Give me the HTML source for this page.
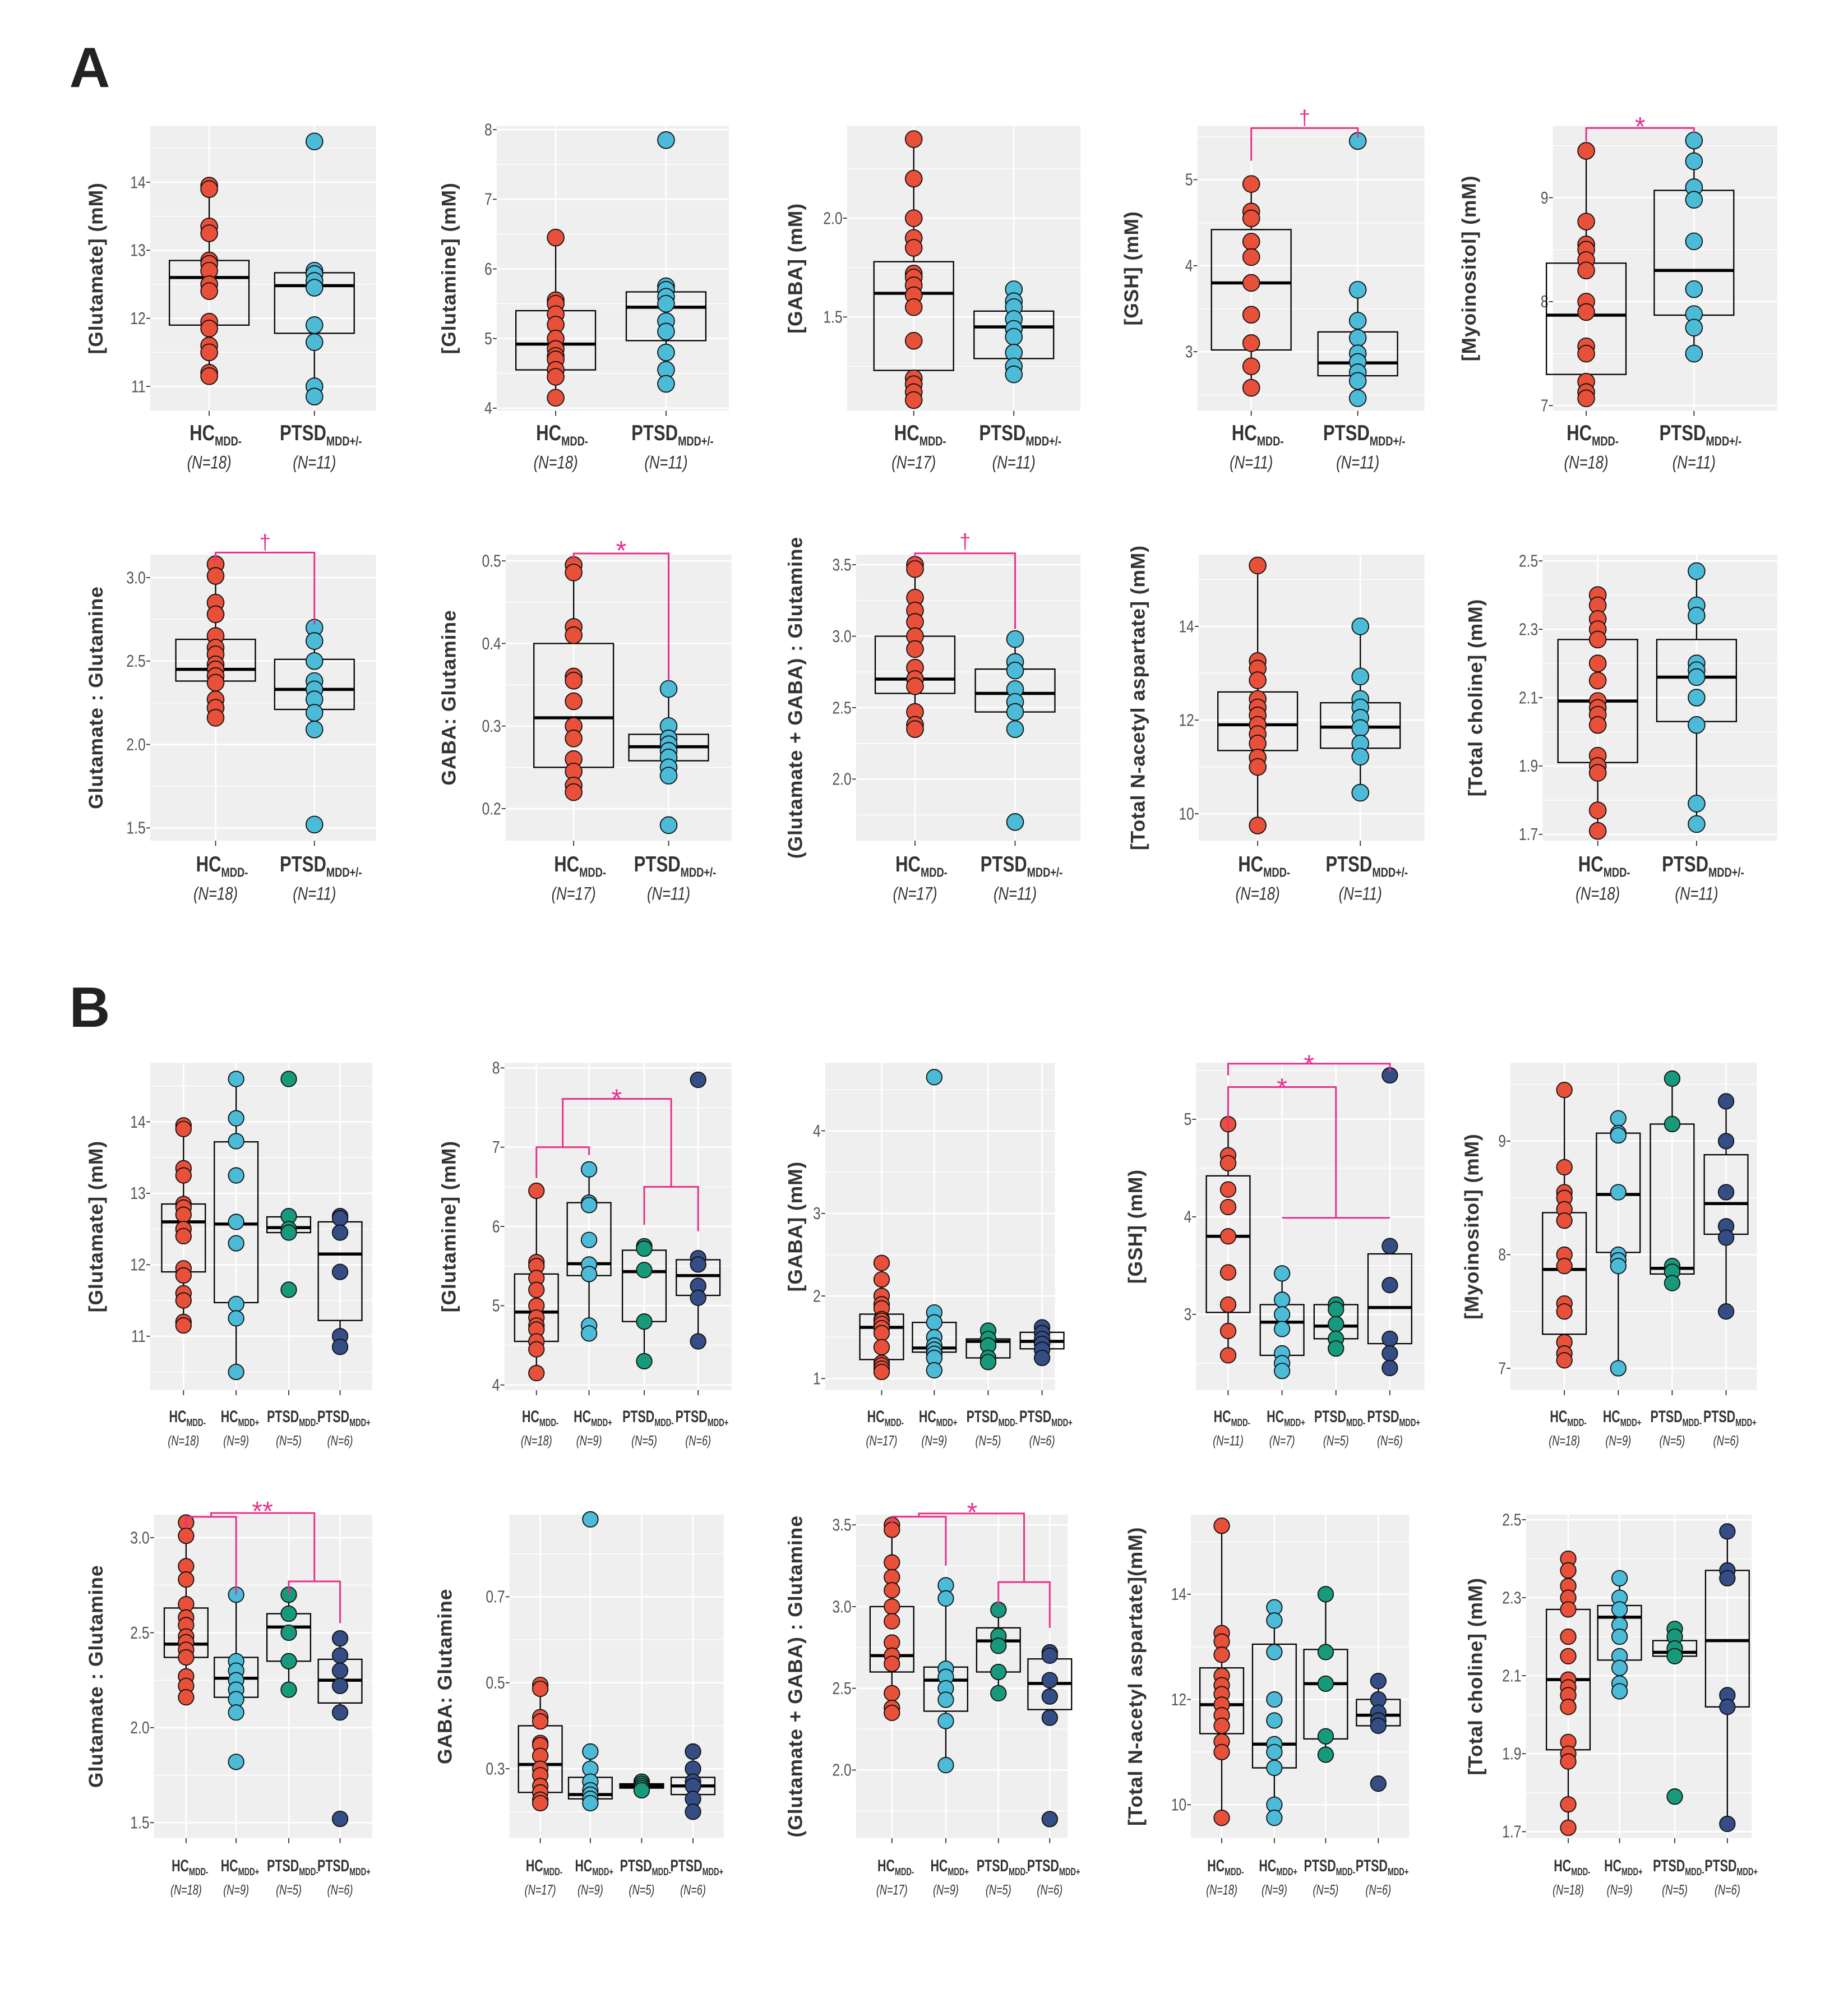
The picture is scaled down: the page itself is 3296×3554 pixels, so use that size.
<!DOCTYPE html>
<html><head><meta charset="utf-8"><style>
html,body{margin:0;padding:0;background:#fff}
svg{display:block}
text{font-family:"Liberation Sans",sans-serif}
</style></head><body>
<svg id="fig" xmlns="http://www.w3.org/2000/svg" width="3296" height="3554" viewBox="0 0 1440 1552.7" preserveAspectRatio="none">
<rect width="1440" height="1553" fill="#fff"/>
<text x="54" y="68" font-size="44" font-weight="bold" fill="#222">A</text>
<text x="54" y="800" font-size="44" font-weight="bold" fill="#222">B</text>
</svg>
<script>
// ---------- DATA ----------
const titles = ["[Glutamate] (mM)","[Glutamine] (mM)","[GABA] (mM)","[GSH] (mM)","[Myoinositol] (mM)",
 "Glutamate : Glutamine","GABA: Glutamine","(Glutamate + GABA) : Glutamine","[Total N-acetyl aspartate] (mM)","[Total choline] (mM)",
 "[Glutamate] (mM)","[Glutamine] (mM)","[GABA] (mM)","[GSH] (mM)","[Myoinositol] (mM)",
 "Glutamate : Glutamine","GABA: Glutamine","(Glutamate + GABA) : Glutamine","[Total N-acetyl aspartate](mM)","[Total choline] (mM)"];
const groupsA = ["HC","PTSD"];
const subsA = ["MDD-","MDD+/-"];
const groupsB = ["HC","HC","PTSD","PTSD"];
const subsB = ["MDD-","MDD+","MDD-","MDD+"];
const ticks = [[11,12,13,14],[4,5,6,7,8],[1.5,2.0],[3,4,5],[7,8,9],
 [1.5,2.0,2.5,3.0],[0.2,0.3,0.4,0.5],[2.0,2.5,3.0,3.5],[10,12,14],[1.7,1.9,2.1,2.3,2.5],
 [11,12,13,14],[4,5,6,7,8],[1,2,3,4],[3,4,5],[7,8,9],
 [1.5,2.0,2.5,3.0],[0.3,0.5,0.7],[2.0,2.5,3.0,3.5],[10,12,14],[1.7,1.9,2.1,2.3,2.5]];
const tickDecimals = [0,0,1,0,0, 1,1,1,0,1, 0,0,0,0,0, 1,1,1,0,1];
const ns = [[18,11],[18,11],[17,11],[11,11],[18,11],[18,11],[17,11],[17,11],[18,11],[18,11],
 [18,9,5,6],[18,9,5,6],[17,9,5,6],[11,7,5,6],[18,9,5,6],[18,9,5,6],[17,9,5,6],[17,9,5,6],[18,9,5,6],[18,9,5,6]];

const hcGlu = [13.95,13.9,13.35,13.25,12.85,12.8,12.7,12.5,12.4,11.95,11.85,11.6,11.5,11.2,11.15];
const hcGln = [6.45,5.55,5.5,5.35,5.2,5.0,4.85,4.75,4.7,4.55,4.45,4.15];
const hcGaba = [2.40,2.20,2.0,1.90,1.85,1.72,1.70,1.66,1.61,1.55,1.38,1.19,1.16,1.12,1.08];
const hcGsh = [4.95,4.63,4.55,4.28,4.1,3.8,3.43,3.1,2.83,2.58];
const hcMyo = [9.45,8.77,8.55,8.5,8.4,8.3,8.0,7.9,7.57,7.5,7.23,7.13,7.07];
const hcGluGln = [3.08,3.01,2.85,2.78,2.65,2.58,2.54,2.48,2.45,2.41,2.37,2.27,2.22,2.16];
const hcGabaGln = [0.495,0.486,0.42,0.41,0.36,0.355,0.33,0.30,0.285,0.26,0.245,0.228,0.22];
const hcGgGln = [3.5,3.47,3.27,3.18,3.1,3.0,2.91,2.78,2.7,2.65,2.47,2.38,2.35];
const hcNaa = [15.3,13.26,13.1,12.85,12.45,12.27,12.1,11.9,11.7,11.5,11.2,11.0,9.75];
const hcCho = [2.40,2.37,2.33,2.30,2.27,2.2,2.15,2.09,2.07,2.05,2.02,1.93,1.9,1.88,1.77,1.71];

const points = [
 [hcGlu,[14.6,12.7,12.65,12.55,12.45,11.9,11.65,11.0,10.85]],
 [hcGln,[7.85,5.75,5.7,5.6,5.5,5.25,5.1,4.8,4.55,4.35]],
 [hcGaba,[1.64,1.58,1.55,1.49,1.44,1.40,1.32,1.25,1.21]],
 [hcGsh,[5.45,3.72,3.36,3.16,2.98,2.88,2.76,2.66,2.46]],
 [hcMyo,[9.55,9.35,9.1,8.98,8.58,8.12,7.88,7.75,7.5]],
 [hcGluGln,[2.7,2.62,2.5,2.38,2.33,2.27,2.19,2.09,1.52]],
 [hcGabaGln,[0.345,0.30,0.285,0.278,0.27,0.262,0.25,0.24,0.18]],
 [hcGgGln,[2.98,2.82,2.76,2.63,2.54,2.47,2.35,1.7]],
 [hcNaa,[14.0,12.93,12.45,12.27,12.05,11.83,11.5,11.22,10.45]],
 [hcCho,[2.47,2.37,2.34,2.2,2.18,2.16,2.1,2.02,1.79,1.73]],
 [hcGlu,[14.6,14.05,13.73,13.25,12.6,12.3,11.45,11.25,10.5],[14.6,12.68,12.5,12.45,11.65],[12.68,12.65,12.45,11.9,11.0,10.85]],
 [hcGln,[6.72,6.3,6.27,5.83,5.52,5.4,4.75,4.65],[5.75,5.72,5.45,4.8,4.3],[7.85,5.6,5.52,5.25,5.1,4.55]],
 [hcGaba,[4.65,1.8,1.68,1.5,1.4,1.35,1.3,1.25,1.1],[1.58,1.48,1.4,1.25,1.2],[1.62,1.55,1.48,1.42,1.35,1.25]],
 [hcGsh,[3.42,3.15,3.0,2.85,2.6,2.5,2.42],[3.1,3.05,2.9,2.75,2.65],[5.45,3.7,3.3,2.75,2.6,2.45]],
 [hcMyo,[9.2,9.07,9.05,8.55,8.0,7.95,7.9,7.0],[9.55,9.15,7.9,7.85,7.75],[9.35,9.0,8.55,8.25,8.15,7.5]],
 [hcGluGln,[2.7,2.35,2.3,2.25,2.2,2.15,2.08,1.82],[2.7,2.6,2.5,2.35,2.2],[2.47,2.38,2.3,2.22,2.08,1.52]],
 [hcGabaGln,[0.88,0.34,0.3,0.27,0.25,0.24,0.23,0.22],[0.27,0.265,0.26,0.255,0.25],[0.34,0.3,0.27,0.26,0.23,0.2]],
 [hcGgGln,[3.13,3.05,2.62,2.57,2.5,2.43,2.3,2.03],[2.98,2.82,2.76,2.6,2.47],[2.72,2.7,2.55,2.45,2.32,1.7]],
 [hcNaa,[13.75,13.5,12.9,12.0,11.6,11.15,11.0,10.7,10.0,9.75],[14.0,12.9,12.3,11.3,10.95],[12.35,12.0,11.75,11.6,11.5,10.4]],
 [hcCho,[2.35,2.3,2.27,2.23,2.2,2.15,2.12,2.08,2.06],[2.22,2.2,2.17,2.15,1.79],[2.47,2.37,2.35,2.05,2.02,1.72]]
];
// box stats: [lower whisker, q1, median, q3, upper whisker]
const boxes = [
 [[11.15,11.9,12.6,12.85,13.95],[10.85,11.78,12.48,12.67,12.7]],
 [[4.15,4.55,4.92,5.4,6.45],[4.35,4.97,5.45,5.67,5.75]],
 [[1.08,1.23,1.62,1.78,2.40],[1.21,1.29,1.45,1.53,1.64]],
 [[2.58,3.02,3.8,4.42,4.95],[2.46,2.72,2.87,3.23,3.72]],
 [[7.07,7.3,7.87,8.37,9.45],[7.5,7.87,8.3,9.07,9.55]],
 [[2.16,2.38,2.45,2.63,3.08],[2.09,2.21,2.33,2.51,2.7]],
 [[0.22,0.25,0.31,0.40,0.495],[0.24,0.258,0.275,0.29,0.345]],
 [[2.35,2.6,2.7,3.0,3.5],[2.35,2.47,2.6,2.77,2.98]],
 [[9.75,11.35,11.9,12.6,15.3],[10.45,11.4,11.85,12.37,14.0]],
 [[1.71,1.91,2.09,2.27,2.40],[1.73,2.03,2.16,2.27,2.47]],
 [[11.15,11.9,12.6,12.85,13.95],[10.5,11.47,12.57,13.72,14.6],[12.45,12.45,12.52,12.67,12.68],[10.85,11.22,12.15,12.6,12.68]],
 [[4.15,4.55,4.92,5.4,6.45],[4.65,5.38,5.53,6.3,6.72],[4.3,4.8,5.43,5.7,5.75],[4.55,5.13,5.38,5.58,5.6]],
 [[1.08,1.23,1.62,1.78,2.40],[1.1,1.32,1.37,1.68,1.8],[1.2,1.25,1.45,1.48,1.58],[1.25,1.36,1.45,1.56,1.62]],
 [[2.58,3.02,3.8,4.42,4.95],[2.42,2.58,2.92,3.1,3.42],[2.65,2.75,2.88,3.1,3.1],[2.45,2.7,3.07,3.62,3.7]],
 [[7.07,7.3,7.87,8.37,9.45],[7.0,8.02,8.53,9.07,9.2],[7.75,7.83,7.88,9.15,9.55],[7.5,8.18,8.45,8.88,9.35]],
 [[2.16,2.37,2.44,2.63,3.08],[2.08,2.16,2.26,2.37,2.7],[2.2,2.35,2.53,2.6,2.7],[2.08,2.13,2.25,2.36,2.47]],
 [[0.21,0.245,0.31,0.40,0.49],[0.22,0.23,0.24,0.28,0.34],[0.25,0.255,0.26,0.265,0.27],[0.2,0.24,0.26,0.28,0.34]],
 [[2.35,2.6,2.7,3.0,3.5],[2.03,2.36,2.55,2.63,3.13],[2.47,2.6,2.79,2.87,2.98],[2.32,2.37,2.53,2.68,2.72]],
 [[9.75,11.35,11.9,12.6,15.3],[9.7,10.7,11.15,13.05,13.75],[10.95,11.25,12.3,12.95,14.0],[11.5,11.5,11.7,12.0,12.35]],
 [[1.71,1.91,2.09,2.27,2.40],[2.06,2.14,2.25,2.28,2.35],[2.15,2.15,2.16,2.19,2.22],[1.72,2.02,2.19,2.37,2.47]]
];
// significance brackets: polylines as [categoryIndex, value] pairs; plus symbol [catIndex, value, label]
const bracketLines = {
 3:[[[0,5.22],[0,5.6],[1,5.6],[1,5.49]]],
 4:[[[0,9.54],[0,9.67],[1,9.67],[1,9.62]]],
 5:[[[0,3.1],[0,3.15],[1,3.15],[1,2.72]]],
 6:[[[0,0.5],[0,0.509],[1,0.509],[1,0.355]]],
 7:[[[0,3.53],[0,3.58],[1,3.58],[1,3.05]]],
 11:[[[0,6.61],[0,7.0],[1,7.0],[1,6.9]],[[2,6.02],[2,6.5],[3,6.5],[3,5.94]],[[0.5,7.0],[0.5,7.61],[2.5,7.61],[2.5,6.5]]],
 13:[[[0,5.45],[0,5.57],[3,5.57],[3,5.49]],[[0,4.9],[0,5.33],[2,5.33],[2,3.99]],[[1,3.99],[3,3.99]]],
 15:[[[0,3.05],[0,3.11],[1,3.11],[1,2.70]],[[2,2.70],[2,2.77],[3,2.77],[3,2.55]],[[0.5,3.11],[0.5,3.13],[2.5,3.13],[2.5,2.77]]],
 17:[[[0,3.5],[0,3.55],[1,3.55],[1,3.25]],[[2,3.01],[2,3.15],[3,3.15],[3,2.87]],[[0.5,3.55],[0.5,3.57],[2.5,3.57],[2.5,3.15]]]
};
const bracketSymbols = {
 3:[[0.5,5.7,"†"]],4:[[0.5,9.72,"*"]],5:[[0.5,3.2,"†"]],6:[[0.5,0.517,"*"]],7:[[0.5,3.65,"†"]],
 11:[[1.5,7.66,"*"]],13:[[1.5,5.6,"*"],[1,5.36,"*"]],15:[[1.5,3.16,"**"]],17:[[1.5,3.6,"*"]]
};

// ---------- LAYOUT (pixel positions, not data) ----------
const bgX = [[117,293],[387,568],[660,842],[933,1110],[1210,1385],
 [117,293],[394,570],[667,842],[934,1110],[1202,1385],
 [117,290],[393,570],[643,822],[932,1110],[1177,1369],
 [120,290],[397,564],[667,832],[928,1098],[1189,1365]];
const bgY = [[98,320],[432,655],[828,1083],[1180,1432]];
const catX = [[163,245],[433,519],[712,790],[975,1058],[1236,1320],
 [168,245],[447,521],[713,791],[980,1060],[1245,1322],
 [143,184,225,265],[418,459,502,544],[687,728,770,812],[957,999,1041,1083],[1219,1261,1303,1345],
 [145,184,225,265],[421,460,500,540],[695,737,778,818],[952,993,1033,1074],[1222,1262,1305,1346]];
const yMap = [[14,142,11,301],[8,101,4,318],[2.0,170,1.5,247],[5,140,3,274],[9,154,7,316],
 [3,450,1.5,645],[0.5,437,0.2,630],[3.5,440,2.0,607],[14,488,10,634],[2.5,437,1.7,650],
 [14,874,11,1041],[8,832,4,1079],[4,881,1,1074],[5,872,3,1024],[9,889,7,1066],
 [3,1198,1.5,1420],[0.7,1244,0.3,1378],[3.5,1188,2.0,1379],[14,1242,10,1406],[2.5,1184,1.7,1427]];
const titleX = [80,355,625,887,1150, 80,355,625,892,1155, 80,355,625,890,1152, 80,352,625,890,1155];
const labY = [[343,365],[679,701],[1108,1126],[1458,1476]];
const colorsA = ["#e8503a","#4bbbd8"];
const colorsB = ["#e8503a","#4bbbd8","#179a7b","#354d85"];
const NS = "http://www.w3.org/2000/svg";
const svg = document.getElementById('fig');

function mk(tag, attrs, parent){
  const e = document.createElementNS(NS, tag);
  for (const k in attrs) e.setAttribute(k, attrs[k]);
  (parent||svg).appendChild(e);
  return e;
}

for (let p = 0; p < 20; p++) {
  const row = Math.floor(p/5);
  const isB = row >= 2;
  const [x0,x1] = bgX[p];
  const [y0,y1] = bgY[row];
  const m = yMap[p];
  const ys = v => m[1] + (v - m[0]) * (m[3] - m[1]) / (m[2] - m[0]);
  const cx = c => { const xs = catX[p]; const i = Math.floor(c); const f = c - i; return f === 0 ? xs[i] : xs[i] + f * (xs[i+1] - xs[i]); };
  const g = mk('g', {});
  
  
  const bg = mk('rect', {x:x0, y:y0, width:x1-x0, height:y1-y0, fill:'#efefef'}, g);
  
  
  const tk = ticks[p];
  const step = tk[1] - tk[0];
  for (let v = tk[0] - step*1.5; v <= tk[tk.length-1] + step*1.6; v += step/2) {
    const yy = ys(v);
    if (yy < y0 || yy > y1) continue;
    const major = tk.some(t => Math.abs(t - v) < 1e-6);
    mk('line', {x1:x0, x2:x1, y1:yy, y2:yy, stroke:'#fff', 'stroke-width': major ? 1.2 : 0.6}, g);
  }
  catX[p].forEach(x => {
    mk('line', {x1:x, x2:x, y1:y0, y2:y1, stroke:'#fff', 'stroke-width':1.2}, g);
    mk('line', {x1:x, x2:x, y1:y1, y2:y1+4, stroke:'#333', 'stroke-width':0.8}, g);
  });
  tk.forEach(t => {
    const yy = ys(t);
    mk('line', {x1:x0-3, x2:x0, y1:yy, y2:yy, stroke:'#333', 'stroke-width':0.8}, g);
    const lab = mk('text', {x:0, y:0, 'font-size':13.5, fill:'#555', 'text-anchor':'end', transform:`translate(${x0-3.5} ${yy+4.5}) scale(0.8 1)`}, g);
    lab.textContent = t.toFixed(tickDecimals[p]);
    
    
  });
  const ty = (y0 + y1) / 2;
  const title = mk('text', {x:titleX[p], y:ty, 'font-size':15.5, 'font-weight':'bold', fill:'#333', 'text-anchor':'middle', 'letter-spacing':0.4, transform:`rotate(-90 ${titleX[p]} ${ty})`}, g);
  title.textContent = titles[p];
  
  
  const half = isB ? 17 : 31;
  const cols = isB ? colorsB : colorsA;
  boxes[p].forEach((b, i) => {
    const x = catX[p][i];
    mk('line', {x1:x, x2:x, y1:ys(b[0]), y2:ys(b[1]), stroke:'#000', 'stroke-width':1}, g);
    mk('line', {x1:x, x2:x, y1:ys(b[3]), y2:ys(b[4]), stroke:'#000', 'stroke-width':1}, g);
    const r = mk('rect', {x:x-half, y:ys(b[3]), width:half*2, height:Math.max(ys(b[1])-ys(b[3]),0.5), fill:'none', stroke:'#000', 'stroke-width':1}, g);
    
    
    mk('line', {x1:x-half, x2:x+half, y1:ys(b[2]), y2:ys(b[2]), stroke:'#000', 'stroke-width':2.4}, g);
  });
  points[p].forEach((arr, i) => {
    arr.forEach(v => {
      const c = mk('circle', {cx:catX[p][i], cy:ys(v), r:isB ? 6 : 6.5, fill:cols[i], stroke:'#111', 'stroke-width':0.8}, g);
      
      
    });
  });
  (bracketLines[p] || []).forEach(line => {
    const pl = mk('polyline', {points: line.map(q => cx(q[0]) + ',' + ys(q[1])).join(' '), fill:'none', stroke:'#e8308c', 'stroke-width':1.3}, g);
    
    
  });
  (bracketSymbols[p] || []).forEach(s => {
    const t = mk('text', {x:cx(s[0]), y:ys(s[1]) + (s[2] === '†' ? 4 : 10), 'font-size':s[2] === '†' ? 16 : 21, fill:'#e8308c', 'text-anchor':'middle'}, g);
    t.textContent = s[2];
    
    
  });
  const names = isB ? groupsB : groupsA;
  const subs = isB ? subsB : subsA;
  const fs = isB ? 13 : 17, ss = isB ? 8 : 10, nf = isB ? 11 : 14;
  const sx = isB ? 0.72 : 0.8;
  names.forEach((nm, i) => {
    const x = catX[p][i] + (isB ? 3 : 5);
    const t = mk('text', {x:0, y:0, 'font-size':fs, 'font-weight':'bold', fill:'#333', 'text-anchor':'middle', transform:`translate(${x} ${labY[row][0]}) scale(${sx} 1)`}, g);
    
    
    const a = mk('tspan', {}, t); a.textContent = nm;
    const b = mk('tspan', {dy: isB ? 3 : 4, 'font-size':ss}, t); b.textContent = subs[i];
    const n = mk('text', {x:0, y:0, 'font-size':nf, 'font-style':'italic', fill:'#333', 'text-anchor':'middle', transform:`translate(${catX[p][i]} ${labY[row][1]}) scale(${sx} 1)`}, g);
    n.textContent = '(N=' + ns[p][i] + ')';
    
    
  });
}
</script>
</body></html>
